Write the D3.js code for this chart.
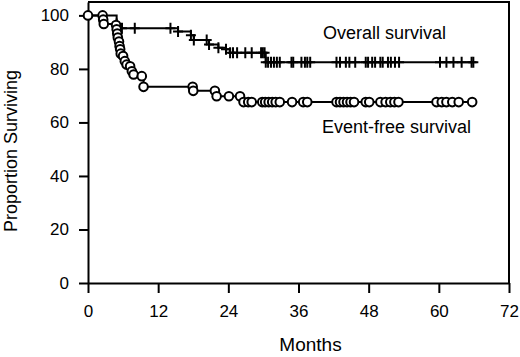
<!DOCTYPE html>
<html>
<head>
<meta charset="utf-8">
<script src="https://cdn.jsdelivr.net/npm/d3@7"></script>
<style>
  body { margin: 0; background: #fff; }
  svg { display: block; font-family: "Liberation Sans", Arial, sans-serif; }
</style>
</head>
<body>
<div id="chart"></div>
<script>
// Overall survival (+ marks), months / percent surviving
var osMonths = [0, 4.9, 5.8, 8.0, 14.1, 15.4, 17.6, 18.1, 20.3, 20.7, 22.3, 23.6, 24.3, 24.8, 25.5, 26.9, 28.0, 29.6, 29.9, 30.2,
  30.4, 30.8, 31.3, 31.8, 32.3, 32.8, 34.8, 35.1, 36.5, 37.1, 37.5, 38.0, 42.5, 43.1, 44.1, 44.7, 45.7,
  47.5, 47.9, 48.6, 49.1, 50.0, 50.4, 51.3, 51.8, 52.5, 53.2, 60.2, 61.3, 62.5, 63.9, 65.6, 65.9];
var osSurv = [100, 96.8, 95.2, 95.2, 95.2, 94.0, 92.6, 90.8, 90.8, 89.1, 87.9, 87.3, 86.0, 86.0, 86.0, 86.0, 86.0, 86.0, 86.0, 86.0,
  82.5, 82.5, 82.5, 82.5, 82.5, 82.5, 82.5, 82.5, 82.5, 82.5, 82.5, 82.5, 82.5, 82.5, 82.5, 82.5, 82.5,
  82.5, 82.5, 82.5, 82.5, 82.5, 82.5, 82.5, 82.5, 82.5, 82.5, 82.5, 82.5, 82.5, 82.5, 82.5, 82.5];

// Event-free survival (o marks)
var efsMonths = [0, 2.5, 2.6, 2.7, 4.8, 4.9, 5.0, 5.1, 5.3, 5.4, 5.5, 5.6, 6.0, 6.3, 6.6, 7.2, 7.5, 7.8, 9.2, 9.5,
  17.9, 18.0, 21.7, 22.0, 24.1, 26.0, 26.6, 27.4, 28.0, 29.8, 30.3, 30.9, 31.5, 32.1, 32.8, 34.9, 36.8, 37.5,
  42.5, 43.1, 43.7, 44.3, 44.9, 45.5, 47.5, 48.1, 50.0, 50.9, 51.7, 52.4, 53.1, 59.6, 60.5, 61.3, 62.3, 63.4, 65.7];
var efsSurv = [100, 100, 98.4, 96.8, 96.4, 94.8, 93.2, 91.7, 90.2, 88.5, 87.3, 85.7, 84.8, 82.9, 81.6, 81.0, 79.1, 77.9, 77.3, 73.3,
  73.3, 71.8, 71.8, 69.8, 69.8, 69.8, 67.6, 67.6, 67.6, 67.6, 67.6, 67.6, 67.6, 67.6, 67.6, 67.6, 67.6, 67.6,
  67.6, 67.6, 67.6, 67.6, 67.6, 67.6, 67.6, 67.6, 67.6, 67.6, 67.6, 67.6, 67.6, 67.6, 67.6, 67.6, 67.6, 67.6, 67.6];

var xTicks = [0, 12, 24, 36, 48, 60, 72];
var yTicks = [0, 20, 40, 60, 80, 100];

var width = 520, height = 357;
var svg = d3.select('#chart').append('svg')
  .attr('width', width)
  .attr('height', height);

var x = d3.scaleLinear().domain([0, 72]).range([88, 509]);
var y = d3.scaleLinear().domain([0, 105]).range([283, 2]);

var os = osMonths.map(function(m, i) { return [m, osSurv[i]]; });
var efs = efsMonths.map(function(m, i) { return [m, efsSurv[i]]; });

// frame top + right
svg.append('path')
  .attr('d', 'M' + x(0) + ',' + y(105) + 'H' + x(72) + 'V' + y(0))
  .attr('fill', 'none').attr('stroke', '#000').attr('stroke-width', 2);

var xAxis = svg.append('g')
  .attr('transform', 'translate(0,' + y(0) + ')')
  .call(d3.axisBottom(x).tickValues(xTicks).tickSize(10).tickSizeOuter(0).tickPadding(12));
var yAxis = svg.append('g')
  .attr('transform', 'translate(' + x(0) + ',0)')
  .call(d3.axisLeft(y).tickValues(yTicks).tickSize(9).tickSizeOuter(0).tickPadding(10));

[xAxis, yAxis].forEach(function(a) {
  a.select('.domain').attr('stroke-width', 2);
  a.selectAll('.tick line').attr('stroke-width', 2);
  a.selectAll('.tick text').attr('font-size', 17).attr('fill', '#000')
    .attr('font-family', '"Liberation Sans", Arial, sans-serif');
});

var line = d3.line()
  .x(function(d) { return x(d[0]); })
  .y(function(d) { return y(d[1]); })
  .curve(d3.curveStepAfter);

svg.append('path').datum(os)
  .attr('d', line).attr('fill', 'none').attr('stroke', '#000').attr('stroke-width', 2);
svg.append('path').datum(efs)
  .attr('d', line).attr('fill', 'none').attr('stroke', '#000').attr('stroke-width', 2);

// plus markers (skip the start point)
svg.append('g').selectAll('path')
  .data(os.slice(1))
  .enter().append('path')
  .attr('d', function(d) {
    var cx = x(d[0]), cy = y(d[1]);
    return 'M' + (cx - 5) + ',' + cy + 'H' + (cx + 5) + 'M' + cx + ',' + (cy - 5.5) + 'V' + (cy + 5.5);
  })
  .attr('stroke', '#000').attr('stroke-width', 2);

svg.append('g').selectAll('circle')
  .data(efs)
  .enter().append('circle')
  .attr('cx', function(d) { return x(d[0]); })
  .attr('cy', function(d) { return y(d[1]); })
  .attr('r', 4.3)
  .attr('fill', '#fff').attr('stroke', '#000').attr('stroke-width', 2);

svg.append('text').attr('x', 323).attr('y', 38.5)
  .attr('font-size', 18).text('Overall survival');
svg.append('text').attr('x', 322).attr('y', 133)
  .attr('font-size', 18).text('Event-free survival');

svg.append('text')
  .attr('x', (x(0) + x(72)) / 2 + 12).attr('y', 351)
  .attr('text-anchor', 'middle').attr('font-size', 19).text('Months');
svg.append('text')
  .attr('transform', 'translate(17,151) rotate(-90)')
  .attr('text-anchor', 'middle').attr('font-size', 18).text('Proportion Surviving');
</script>
</body>
</html>
